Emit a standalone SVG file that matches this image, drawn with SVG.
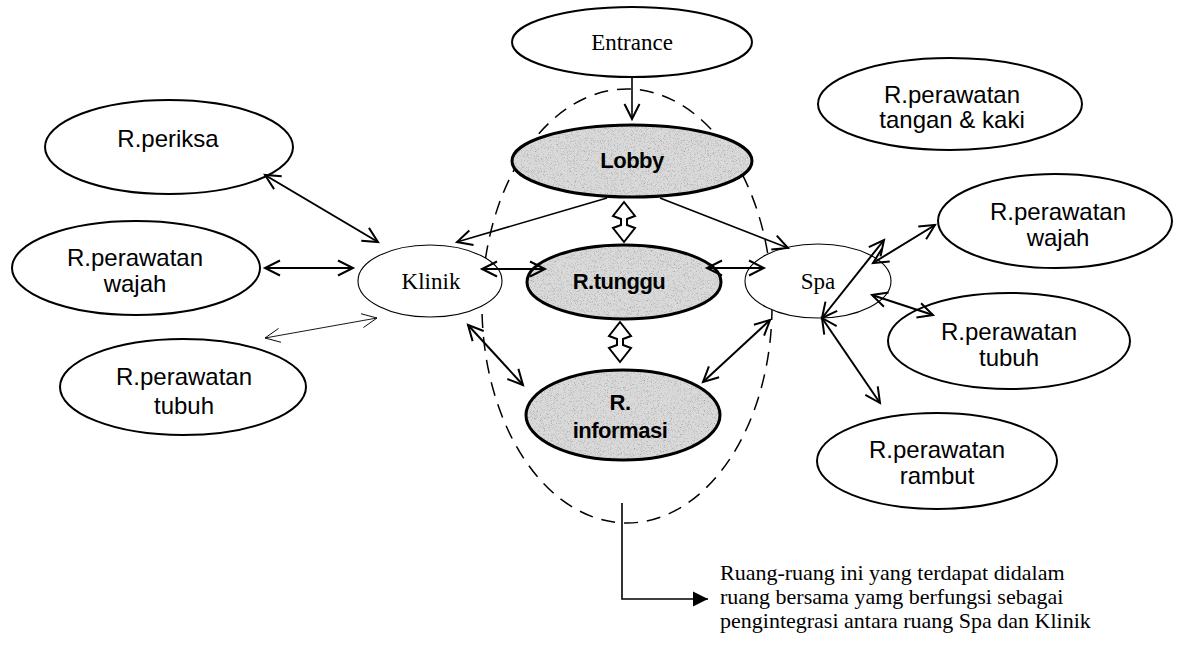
<svg xmlns="http://www.w3.org/2000/svg" width="1183" height="646" viewBox="0 0 1183 646">
  <style>
    .node { fill: #ffffff; stroke: #000000; stroke-width: 2; }
    .thin { fill: #ffffff; stroke: #000000; stroke-width: 1.1; }
    .shade { fill: #dadada; stroke: none; }
    .rim { fill: none; stroke: #000000; stroke-width: 3; }
    .sans { font-family: "Liberation Sans", Arial, sans-serif; font-size: 24px; fill: #000; text-anchor: middle; }
    .serif { font-family: "Liberation Serif", "Times New Roman", serif; font-size: 23px; fill: #000; text-anchor: middle; }
    .bold { font-family: "Liberation Sans", Arial, sans-serif; font-size: 22px; font-weight: bold; fill: #000; text-anchor: middle; letter-spacing: -0.5px; }
    .note { font-family: "Liberation Serif", "Times New Roman", serif; font-size: 22px; fill: #000; }
    .link { stroke: #000; stroke-width: 2; fill: none; marker-start: url(#head); marker-end: url(#head); }
    .one { stroke: #000; stroke-width: 1.6; fill: none; marker-end: url(#head); }
    .faint { stroke: #000; stroke-width: 0.9; fill: none; marker-start: url(#headThin); marker-end: url(#headThin); }
    .hollow { fill: #ffffff; stroke: #000; stroke-width: 2; stroke-linejoin: miter; }
  </style>
  <defs>
    <marker id="head" markerUnits="userSpaceOnUse" markerWidth="20" markerHeight="20" viewBox="-16 -10 20 20" refX="0" refY="0" orient="auto-start-reverse">
      <path d="M -15 -7.5 L 0 0 L -15 7.5" fill="none" stroke="#000" stroke-width="2"/>
    </marker>
    <marker id="headThin" markerUnits="userSpaceOnUse" markerWidth="20" markerHeight="20" viewBox="-16 -10 20 20" refX="0" refY="0" orient="auto-start-reverse">
      <path d="M -15 -7 L 0 0 L -15 7" fill="none" stroke="#000" stroke-width="0.9"/>
    </marker>
    <marker id="solid" markerUnits="userSpaceOnUse" markerWidth="20" markerHeight="20" viewBox="-16 -10 20 20" refX="0" refY="0" orient="auto">
      <path d="M -15 -7.5 L 0 0 L -15 7.5 Z" fill="#000"/>
    </marker>
    <!-- speckled grey fill for the shared rooms -->
    <filter id="grain" x="0%" y="0%" width="100%" height="100%">
      <feTurbulence type="fractalNoise" baseFrequency="1.3" numOctaves="2" seed="7" result="noise"/>
      <feColorMatrix in="noise" type="matrix" values="0 0 0 0 0.25  0 0 0 0 0.25  0 0 0 0 0.25  2.2 0 0 0 -1.12" result="dots"/>
      <feComposite in="dots" in2="SourceGraphic" operator="in" result="clipped"/>
      <feMerge><feMergeNode in="SourceGraphic"/><feMergeNode in="clipped"/></feMerge>
    </filter>
  </defs>

  <!-- shared zone boundary -->
  <ellipse id="zona-bersama" cx="627" cy="306" rx="145" ry="217" fill="none" stroke="#000" stroke-width="1.5" stroke-dasharray="14 9"/>

  <g id="entrance">
    <ellipse class="node" cx="632" cy="42" rx="120" ry="35"/>
    <text class="serif" x="632" y="50" font-size="22">Entrance</text>
  </g>

  <g id="lobby">
    <ellipse class="shade" cx="632" cy="161" rx="120" ry="36" filter="url(#grain)"/>
    <ellipse class="rim" cx="632" cy="161" rx="120" ry="36"/>
    <text class="bold" x="632" y="168">Lobby</text>
  </g>

  <g id="r-tunggu">
    <ellipse class="shade" cx="624" cy="282" rx="97" ry="37" filter="url(#grain)"/>
    <ellipse class="rim" cx="624" cy="282" rx="97" ry="37"/>
    <text class="bold" x="619" y="289">R.tunggu</text>
  </g>

  <g id="r-informasi">
    <ellipse class="shade" cx="623" cy="415" rx="97" ry="45" filter="url(#grain)"/>
    <ellipse class="rim" cx="623" cy="415" rx="97" ry="45"/>
    <text class="bold" x="620" y="410">R.</text>
    <text class="bold" x="620" y="438">informasi</text>
  </g>

  <g id="klinik">
    <ellipse class="thin" cx="430" cy="281" rx="72" ry="36"/>
    <text class="serif" x="431" y="289">Klinik</text>
  </g>

  <g id="spa">
    <ellipse class="thin" cx="818" cy="281" rx="73" ry="37"/>
    <text class="serif" x="818" y="289">Spa</text>
  </g>

  <g id="r-periksa">
    <ellipse class="node" cx="169" cy="147" rx="124" ry="47"/>
    <text class="sans" x="168" y="147">R.periksa</text>
  </g>

  <g id="klinik-wajah">
    <ellipse class="node" cx="136" cy="268" rx="124" ry="47"/>
    <text class="sans" x="135" y="266">R.perawatan</text>
    <text class="sans" x="135" y="292">wajah</text>
  </g>

  <g id="klinik-tubuh">
    <ellipse class="node" cx="183" cy="387" rx="123" ry="48"/>
    <text class="sans" x="184" y="385">R.perawatan</text>
    <text class="sans" x="184" y="414">tubuh</text>
  </g>

  <g id="spa-tangan-kaki">
    <ellipse class="node" cx="950" cy="104" rx="132" ry="46"/>
    <text class="sans" x="952" y="103">R.perawatan</text>
    <text class="sans" x="952" y="128">tangan &amp; kaki</text>
  </g>

  <g id="spa-wajah">
    <ellipse class="node" cx="1055" cy="221" rx="117" ry="47"/>
    <text class="sans" x="1058" y="220">R.perawatan</text>
    <text class="sans" x="1058" y="246">wajah</text>
  </g>

  <g id="spa-tubuh">
    <ellipse class="node" cx="1009" cy="341" rx="121" ry="48"/>
    <text class="sans" x="1009" y="340">R.perawatan</text>
    <text class="sans" x="1009" y="366">tubuh</text>
  </g>

  <g id="spa-rambut">
    <ellipse class="node" cx="937" cy="461" rx="120" ry="48"/>
    <text class="sans" x="937" y="458">R.perawatan</text>
    <text class="sans" x="937" y="484">rambut</text>
  </g>

  <g id="connectors">
    <line class="one" x1="632" y1="77" x2="632" y2="119"/>
    <line class="one" stroke-width="2" x1="607" y1="198" x2="457" y2="242"/>
    <line class="one" stroke-width="2" x1="660" y1="198" x2="788" y2="248"/>

    <line class="link" stroke-width="2.6" x1="482" y1="269" x2="545" y2="269"/>
    <line class="link" stroke-width="2.6" x1="707" y1="268" x2="764" y2="268"/>
    <line class="link" x1="468" y1="325" x2="523" y2="385"/>
    <line class="link" x1="770" y1="320" x2="703" y2="382"/>

    <line class="link" x1="265" y1="175" x2="378" y2="242"/>
    <line class="link" x1="265" y1="268" x2="353" y2="268"/>
    <line class="faint" x1="265" y1="338" x2="377" y2="318"/>

    <line class="link" x1="822" y1="318" x2="884" y2="240"/>
    <line class="link" x1="873" y1="263" x2="935" y2="225"/>
    <line class="link" x1="872" y1="295" x2="933" y2="315"/>
    <line class="link" x1="822" y1="318" x2="880" y2="403"/>

    <!-- hollow two-way arrows on the central axis -->
    <polygon class="hollow" points="624,202 635,216 627,219 627,225 635,228 624,242 613,228 621,225 621,219 613,216"/>
    <polygon class="hollow" points="620,322 631,336 623,339 623,345 631,348 620,362 609,348 617,345 617,339 609,336"/>

    <!-- callout to the explanatory note -->
    <polyline points="622,503 622,599 708,599" fill="none" stroke="#000" stroke-width="1.6" marker-end="url(#solid)"/>
  </g>

  <g id="keterangan">
    <text class="note" x="720" y="580">Ruang-ruang ini yang terdapat didalam</text>
    <text class="note" x="720" y="604">ruang bersama yamg berfungsi sebagai</text>
    <text class="note" x="720" y="628">pengintegrasi antara ruang Spa dan Klinik</text>
  </g>
</svg>
